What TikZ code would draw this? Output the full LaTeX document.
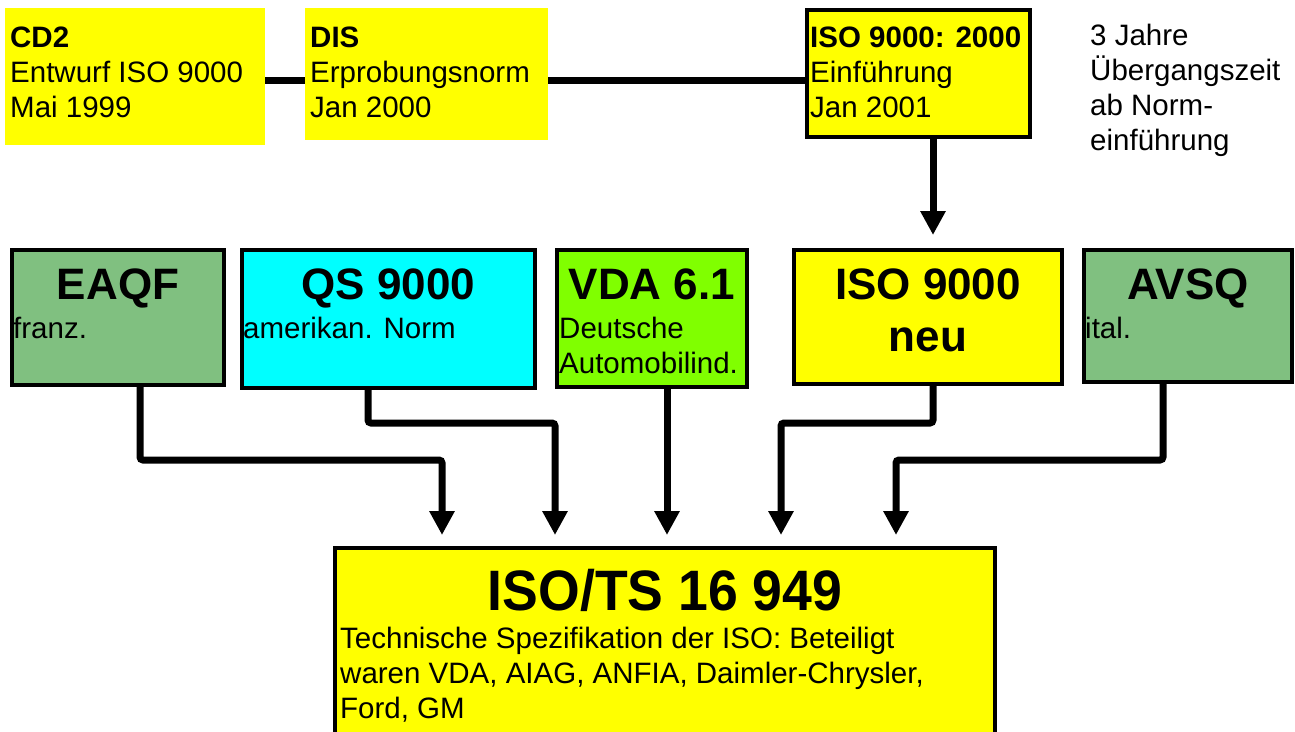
\documentclass[tikz,border=0pt]{standalone}
\usepackage{fontspec}
\setmainfont{Liberation Sans}
\usetikzlibrary{arrows.meta}
\definecolor{yel}{HTML}{FFFF00}
\definecolor{cyn}{HTML}{00FFFF}
\definecolor{chart}{HTML}{80FF00}
\definecolor{grn}{HTML}{80C080}
\begin{document}
\begin{tikzpicture}[x=1pt,y=-1pt,
  box/.style={draw=black, line width=4pt, inner sep=0pt, anchor=north west},
  plainbox/.style={inner sep=0pt, anchor=north west},
  txt/.style={anchor=base west, inner sep=0pt, align=left, font=\fontsize{29.5}{35}\selectfont},
  head/.style={anchor=base, inner sep=0pt, align=center, font=\fontsize{44}{52}\selectfont\bfseries},
  title/.style={anchor=base, inner sep=0pt, xscale=0.94, font=\fontsize{57}{60}\selectfont\bfseries},
  conn/.style={line width=7pt, rounded corners=3pt},
  arr/.style={conn, -{Triangle[width=24pt,length=24pt]}}]
\clip (0,0) rectangle (1295,731);
\fill[white] (0,0) rectangle (1295,731);

% top row
\node[plainbox, fill=yel, minimum width=260pt, minimum height=137pt] (cd2) at (5,8) {};
\node[plainbox, fill=yel, minimum width=243pt, minimum height=132pt] (dis) at (305,8) {};
\coordinate (ly) at (0,80);
\draw[line width=7pt] (cd2.east |- ly) -- (dis.west |- ly);
\draw[line width=7pt] (dis.east |- ly) -- (805,80) coordinate (isol);
\node[box, fill=yel, minimum width=223pt, minimum height=127pt] (iso2000) at (805,8) {};

% multi-line texts: anchor base = baseline of the last line
\node[txt] (cd2t) at (10,117) {\textbf{CD2}\\Entwurf ISO 9000\\Mai 1999};
\node[txt] (dist) at (310,117) {\textbf{DIS}\\Erprobungsnorm\\Jan 2000};
\node[txt] (iso2000t) at (810,117) {\textbf{ISO 9000: 2000}\\Einführung\\Jan 2001};
\node[txt] (note) at (1090,150) {3 Jahre\\Übergangszeit\\ab Norm-\\einführung};

% middle row
\node[box, fill=grn, minimum width=212pt, minimum height=135pt] (eaqf) at (10,248) {};
\node[box, fill=cyn, minimum width=293pt, minimum height=138pt] (qs) at (240,248) {};
\node[box, fill=chart, minimum width=190pt, minimum height=137pt] (vda) at (555,248) {};
\node[box, fill=yel, minimum width=268pt, minimum height=134pt] (neu) at (792,248) {};
\node[box, fill=grn, minimum width=208pt, minimum height=132pt] (avsq) at (1082,248) {};

\node[head] (eaqfh) at (eaqf.center |- 0,299) {EAQF};
\node[head] (qsh) at (qs.center |- 0,299) {QS 9000};
\node[head] (vdah) at (vda.center |- 0,299) {VDA 6.1};
\node[head] (neuh) at (neu.center |- 0,351) {ISO 9000\\neu};
\node[head] (avsqh) at (avsq.center |- 0,299) {AVSQ};

\node[txt] (eaqft) at (13,338) {franz.};
\node[txt] (qst) at (243,338) {amerikan. Norm};
\node[txt] (vdat) at (559,373) {Deutsche\\Automobilind.};
\node[txt] (avsqt) at (1085,338) {ital.};

% bottom box
\node[box, fill=yel, minimum width=660pt, minimum height=220pt] (ts) at (333,546) {};
\node[title] (tst) at (ts.north |- 0,610) {ISO/TS 16 949};
\node[txt] (tsb) at (340,718) {Technische Spezifikation der ISO: Beteiligt\\waren VDA, AIAG, ANFIA, Daimler-Chrysler,\\Ford, GM};

% arrows
\coordinate (tipy) at (0,535);
\draw[arr] (933,135) coordinate (a0) -- (933,235) coordinate (a0e);
\draw[arr] (eaqf.south -| 140,0) -- (140,460) -- (442,460) -- (tipy -| 442,0);
\draw[arr] (qs.south -| 368,0) -- (368,423) -- (555,423) -- (tipy -| 555,0);
\draw[arr] (vda.south -| 667,0) -- (tipy -| 667,0);
\draw[arr] (neu.south -| 933,0) -- (933,423) -- (781,423) -- (tipy -| 781,0);
\draw[arr] (avsq.south -| 1163,0) -- (1163,460) -- (896,460) -- (tipy -| 896,0);
\end{tikzpicture}
\end{document}
